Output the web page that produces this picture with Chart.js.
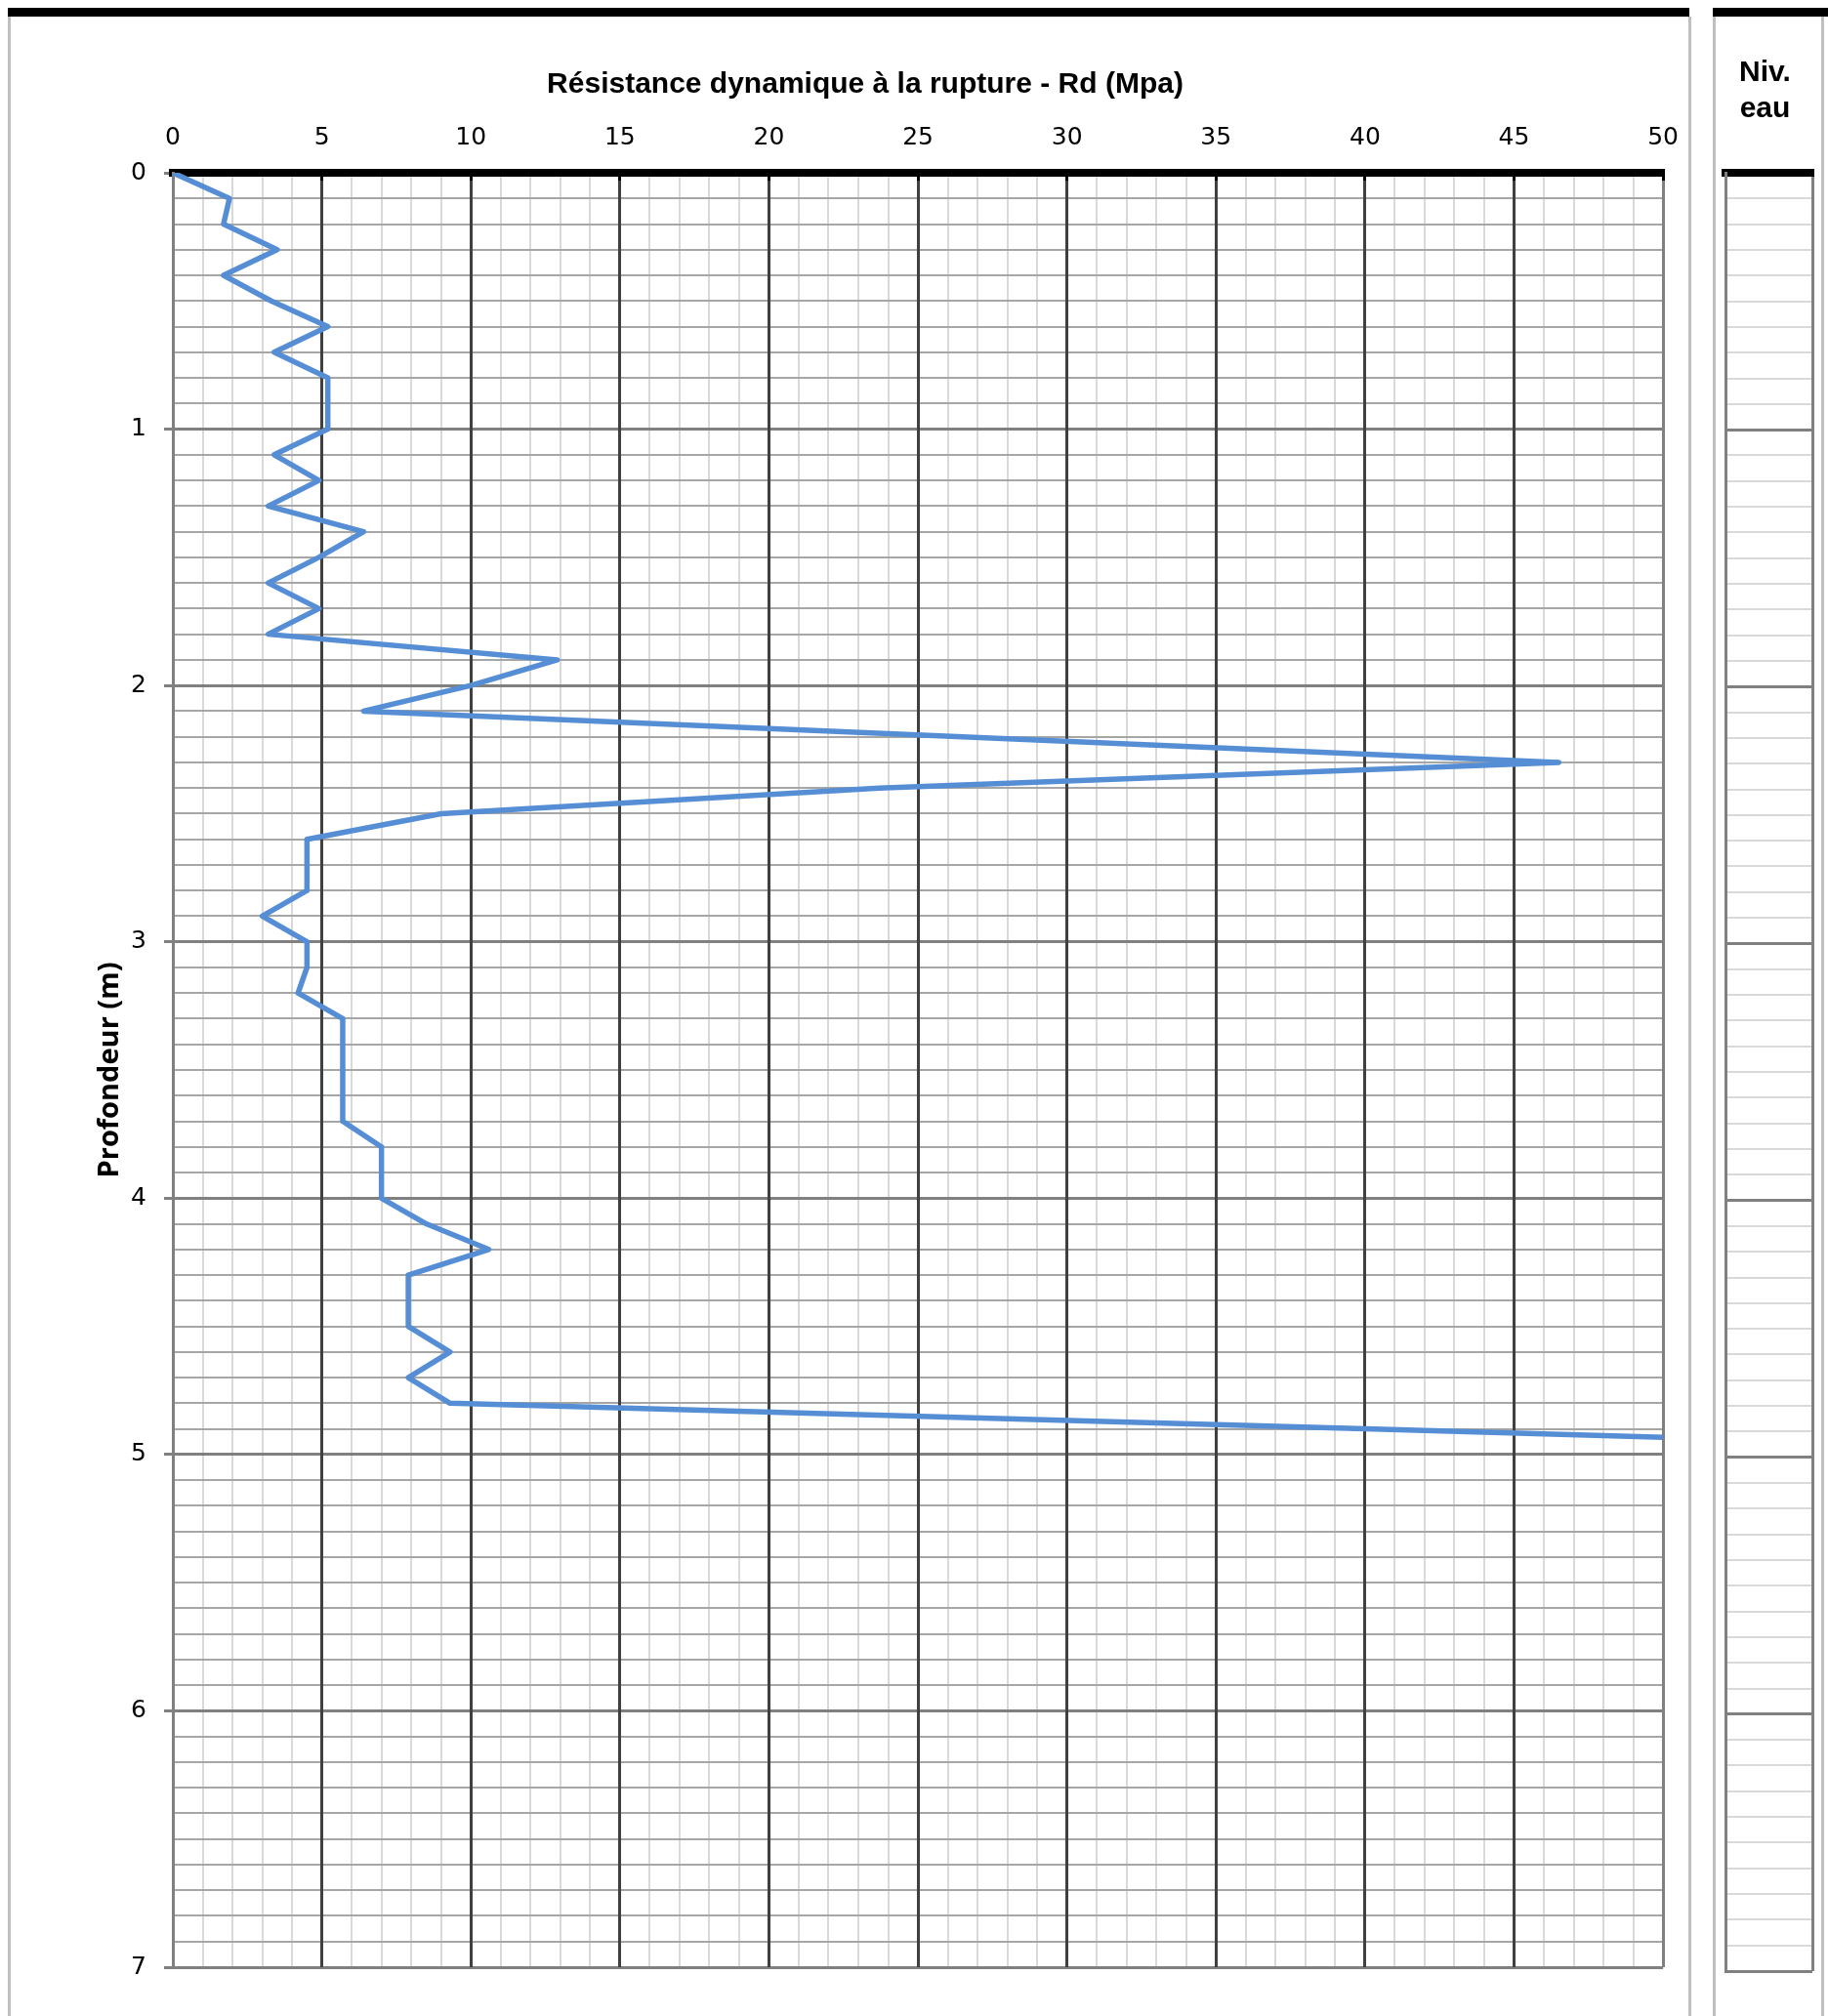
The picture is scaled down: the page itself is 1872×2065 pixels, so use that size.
<!DOCTYPE html>
<html lang="fr">
<head>
<meta charset="utf-8">
<title>Pénétromètre dynamique - Rd</title>
<script src="https://cdn.jsdelivr.net/npm/chart.js@4.4.1/dist/chart.umd.min.js"></script>
<style>
  html, body { margin: 0; padding: 0; background: #fff; }
  body { position: relative; width: 1872px; height: 2065px; overflow: hidden; }
  .frame { position: absolute; top: 17px; bottom: 0; border-left: 3px solid #bfbfbf; border-right: 3px solid #bfbfbf; }
  .bar { position: absolute; top: 8px; height: 9px; background: #000; }
  canvas { position: absolute; top: 0; }
</style>
</head>
<body>
<div class="frame" style="left:8px; width:1718px;"></div>
<div class="bar" style="left:8px; width:1722px;"></div>
<div class="frame" style="left:1754px; width:108px;"></div>
<div class="bar" style="left:1754px; width:118px;"></div>
<canvas id="rd" width="1748" height="2065" style="left:0"></canvas>
<canvas id="niv" width="110" height="2065" style="left:1758px"></canvas>
<script>
// Profondeur de chaque mesure (m)
const depths = [
  0.0, 0.1, 0.2, 0.3, 0.4, 0.5, 0.6, 0.7, 0.8, 0.9,
  1.0, 1.1, 1.2, 1.3, 1.4, 1.5, 1.6, 1.7, 1.8, 1.9,
  2.0, 2.1, 2.2, 2.3, 2.4, 2.5, 2.6, 2.7, 2.8, 2.9,
  3.0, 3.1, 3.2, 3.3, 3.4, 3.5, 3.6, 3.7, 3.8, 3.9,
  4.0, 4.1, 4.2, 4.3, 4.4, 4.5, 4.6, 4.7, 4.8, 4.9,
  5.0
];
// Résistance dynamique à la rupture Rd (MPa)
const rd = [
  0.0, 1.9, 1.7, 3.5, 1.7, 3.3, 5.2, 3.4, 5.2, 5.2,
  5.2, 3.4, 4.9, 3.2, 6.4, 4.9, 3.2, 4.9, 3.2, 12.9,
  10.0, 6.4, 26.5, 46.5, 23.7, 9.0, 4.5, 4.5, 4.5, 3.0,
  4.5, 4.5, 4.2, 5.7, 5.7, 5.7, 5.7, 5.7, 7.0, 7.0,
  7.0, 8.5, 10.6, 7.9, 7.9, 7.9, 9.3, 7.9, 9.3, 40.0,
  70.0
];
// Niveau d'eau relevé (m) : aucun
const waterLevel = [];

// Bornes et pas des axes
const rdMin = 0, rdMax = 50, rdMajor = 5, rdMinor = 1;
const depthMin = 0, depthMax = 7, depthMajor = 1, depthMinor = 0.1;

const profile = depths.map((d, i) => ({ x: rd[i], y: d }));

const tickFont = { family: 'DejaVu Sans', size: 25 };

new Chart(document.getElementById('rd'), {
  type: 'scatter',
  data: {
    datasets: [{
      data: profile,
      showLine: true,
      borderColor: '#558ed5',
      borderWidth: 5.5,
      borderJoinStyle: 'round',
      borderCapStyle: 'round',
      pointRadius: 0,
      tension: 0
    }]
  },
  options: {
    responsive: false,
    animation: false,
    events: [],
    devicePixelRatio: 1,
    layout: { padding: { left: 24, right: 0, top: 0, bottom: 50 } },
    plugins: {
      legend: { display: false },
      tooltip: { enabled: false },
      title: {
        display: true,
        text: 'Résistance dynamique à la rupture - Rd (Mpa)',
        color: '#000',
        font: { family: 'Liberation Sans', size: 30, weight: 'bold', lineHeight: 1.2 },
        padding: { top: 69, bottom: 0 }
      }
    },
    scales: {
      xMinor: {
        type: 'linear', position: 'top', min: rdMin, max: rdMax,
        ticks: { display: false, stepSize: rdMinor, autoSkip: false },
        grid: { color: '#d9d9d9', lineWidth: 2, drawTicks: false, z: -4 },
        border: { display: false },
        afterFit: s => { s.height = 0; }
      },
      x: {
        type: 'linear', position: 'top', min: rdMin, max: rdMax,
        ticks: { stepSize: rdMajor, color: '#000', font: tickFont, padding: 29, maxRotation: 0, autoSkip: false },
        grid: {
          color: c => (c.tick && (c.tick.value === rdMin || c.tick.value === rdMax)) ? '#808080' : '#404040',
          lineWidth: 3, tickLength: -8, tickColor: '#000', tickWidth: 3, z: -1
        },
        border: { color: '#000', width: 8 },
        afterFit: s => { s.height = 72; }
      },
      yMinor: {
        type: 'linear', position: 'left', reverse: true, min: depthMin, max: depthMax,
        ticks: { display: false, stepSize: depthMinor, autoSkip: false },
        grid: { color: '#a6a6a6', lineWidth: 2, drawTicks: false, z: -3 },
        border: { display: false },
        afterFit: s => { s.width = 0; }
      },
      y: {
        type: 'linear', position: 'left', reverse: true, min: depthMin, max: depthMax,
        ticks: { stepSize: depthMajor, color: '#000', font: tickFont, padding: 18, autoSkip: false },
        grid: { color: '#808080', lineWidth: 3, tickLength: 9, tickColor: '#808080', tickWidth: 3, z: -2 },
        border: { color: '#808080', width: 3 },
        title: {
          display: true,
          text: 'Profondeur (m)',
          color: '#000',
          font: { family: 'Open Sans', size: 29, weight: 'bold', lineHeight: 1.2 },
          padding: { top: 71, bottom: 0 }
        },
        afterFit: s => { s.width = 153; }
      }
    }
  }
});

new Chart(document.getElementById('niv'), {
  type: 'scatter',
  data: { datasets: [{ data: waterLevel, pointRadius: 0 }] },
  options: {
    responsive: false,
    animation: false,
    events: [],
    devicePixelRatio: 1,
    layout: { padding: { left: 1, right: 12, top: 0, bottom: 46 } },
    plugins: {
      legend: { display: false },
      tooltip: { enabled: false },
      title: {
        display: true,
        text: ['Niv.', 'eau'],
        color: '#000',
        font: { family: 'Liberation Sans', size: 30, weight: 'bold', lineHeight: '37px' },
        padding: { top: 56, bottom: 0 }
      }
    },
    scales: {
      x: {
        type: 'linear', position: 'top', min: 0, max: 1,
        ticks: { display: false, stepSize: 1 },
        grid: { color: '#808080', lineWidth: 3, drawTicks: false, z: -1 },
        border: { color: '#000', width: 8 },
        afterFit: s => { s.height = 47; }
      },
      yMinor: {
        type: 'linear', position: 'left', reverse: true, min: depthMin, max: depthMax,
        ticks: { display: false, stepSize: depthMinor, autoSkip: false },
        grid: { color: '#d9d9d9', lineWidth: 2, drawTicks: false, z: -3 },
        border: { display: false },
        afterFit: s => { s.width = 0; }
      },
      y: {
        type: 'linear', position: 'left', reverse: true, min: depthMin, max: depthMax,
        ticks: { display: false, stepSize: depthMajor },
        grid: { color: '#808080', lineWidth: 3, drawTicks: false, z: -2 },
        border: { color: '#808080', width: 3 },
        afterFit: s => { s.width = 8; }
      }
    }
  }
});
</script>
</body>
</html>
